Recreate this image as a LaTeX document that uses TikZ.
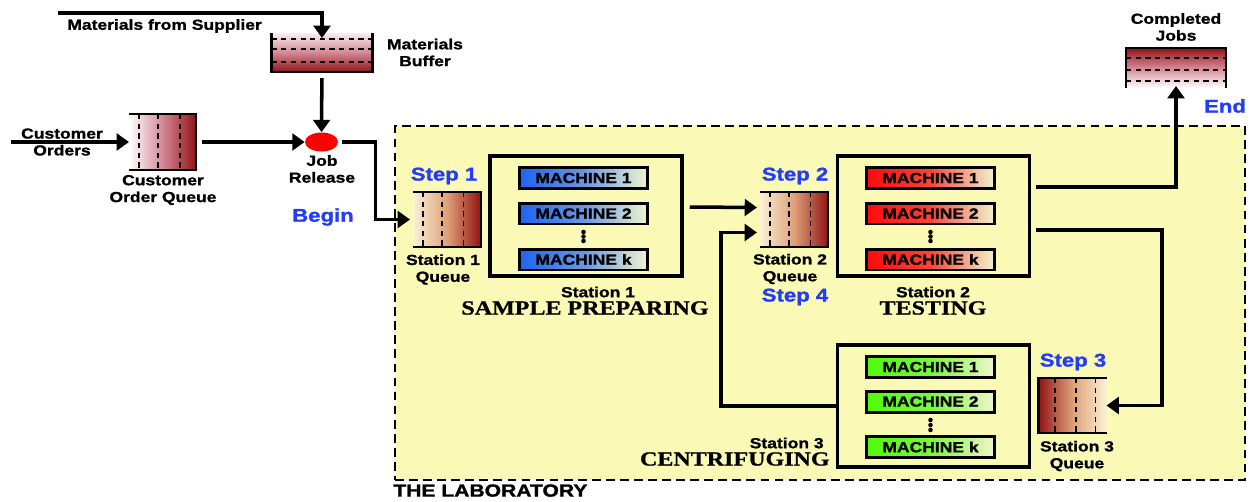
\documentclass[tikz,border=0pt]{standalone}
\usepackage{fontspec}
\setmainfont{Liberation Sans}[FakeStretch=1.2,BoldFeatures={FakeBold=1.3}]
\newfontfamily\titlefont{Liberation Serif}[FakeStretch=1.2,BoldFeatures={FakeBold=1}]
\usetikzlibrary{shapes.geometric,arrows.meta,calc}

\definecolor{labyellow}{RGB}{250,250,182}
\definecolor{qdark}{RGB}{145,20,20}
\definecolor{qcream}{RGB}{250,242,212}
\definecolor{qtan}{RGB}{222,160,120}
\definecolor{qpink}{RGB}{250,236,242}
\definecolor{qrose}{RGB}{212,135,150}
\definecolor{stepblue}{RGB}{35,60,250}
\definecolor{mblue}{RGB}{30,100,240}
\definecolor{mred}{RGB}{255,10,10}
\definecolor{mgreen}{RGB}{80,250,10}
\definecolor{mlight}{RGB}{240,245,205}

\begin{document}
\begin{tikzpicture}[x=0.02cm,y=-0.02cm,
		lbl/.style={font=\fontsize{8.3}{9.6}\selectfont\bfseries,align=center,inner sep=0},
		steplbl/.style={font=\fontsize{10.5}{12}\selectfont\bfseries,text=stepblue,inner sep=0},
		titlelbl/.style={font=\fontsize{11.4}{13}\selectfont\titlefont\bfseries,inner sep=0},
		arr/.style={line width=2pt,-{Triangle[length=7pt,width=9.5pt]}},
		qline/.style={line width=1.2pt},
		qdash/.style={line width=0.9pt,dash pattern=on 3pt off 2.5pt},
		queue/.style={minimum width=1.36cm,minimum height=1.1cm,inner sep=0,outer sep=0},
		station/.style={draw,line width=2pt,minimum width=3.84cm,minimum height=2.4cm,inner sep=0},
		machine/.style={draw,line width=1.7pt,minimum width=2.56cm,minimum height=0.42cm,inner sep=0,
			font=\fontsize{8.3}{9.6}\selectfont\bfseries}]
		\useasboundingbox (0,0) rectangle (1250,501);
		
		% the laboratory
		\node[draw,fill=labyellow,line width=1.2pt,dash pattern=on 5pt off 3pt,
		minimum width=17cm,minimum height=7.08cm,inner sep=0] (lab) at (820,303) {};
		\node[lbl,font=\fontsize{10}{12}\selectfont\bfseries,anchor=north west] (labname) at (393,484) {THE LABORATORY};
		
		% supplier and buffer
		\coordinate (sup) at (58,13);
		\node[lbl,anchor=west] (suplbl) at (67,26) {Materials from Supplier};
		\node[queue,minimum width=2.02cm,minimum height=0.78cm,top color=qpink,bottom color=qdark,middle color=qrose] (buf) at (322,52.5) {};
		\draw[qline] (buf.north west) -- (buf.south west) -- (buf.south east) -- (buf.north east);
		\foreach \f in {0.15,0.41,0.74}
		\draw[qdash] ($(buf.north west)!\f!(buf.south west)$) -- ($(buf.north east)!\f!(buf.south east)$);
		\node[lbl] (buflbl) at (425,52.5) {Materials\\Buffer};
		
		% customer orders
		\coordinate (co) at (11,142);
		\node[lbl] (colbl) at (62,142) {Customer\\Orders};
		\node[queue,minimum width=1.34cm,minimum height=1.12cm,left color=white,right color=qdark,middle color=qrose] (coq) at (162.5,142) {};
		\draw[qline] (coq.north west) -- (coq.north east) -- (coq.south east) -- (coq.south west);
		\foreach \f in {0.15,0.43,0.76}
		\draw[qdash] ($(coq.north west)!\f!(coq.north east)$) -- ($(coq.south west)!\f!(coq.south east)$);
		\node[lbl] (coqlbl) at (163,190) {Customer\\Order Queue};
		
		% job release
		\node[ellipse,fill=red,minimum width=0.66cm,minimum height=0.38cm,inner sep=0] (jr) at (321.5,142) {};
		\node[lbl] (jrlbl) at (322,169) {Job\\Release};
		\node[steplbl] (begin) at (323,217) {Begin};
		
		% station queues
		\node[queue,left color=qcream,right color=qdark,middle color=qtan] (q1) at (447,219.5) {};
		\node[queue,left color=qcream,right color=qdark,middle color=qtan] (q2) at (794,219.5) {};
		\node[queue,left color=qdark,right color=qcream,middle color=qtan] (q3) at (1072.5,405.5) {};
		\foreach \q in {q1,q2}{
			\draw[qline] (\q.north west) -- (\q.north east) -- (\q.south east) -- (\q.south west);
			\foreach \f in {0.15,0.43,0.74}
			\draw[qdash] ($(\q.north west)!\f!(\q.north east)$) -- ($(\q.south west)!\f!(\q.south east)$);
		}
		\draw[qline] (q3.north east) -- (q3.north west) -- (q3.south west) -- (q3.south east);
		\foreach \f in {0.24,0.55,0.84}
		\draw[qdash] ($(q3.north west)!\f!(q3.north east)$) -- ($(q3.south west)!\f!(q3.south east)$);
		
		\node[steplbl] (step1) at (444,176) {Step 1};
		\node[lbl] (q1lbl) at (443,269.5) {Station 1\\Queue};
		\node[steplbl] (step2) at (795,176) {Step 2};
		\node[lbl] (q2lbl) at (790,269) {Station 2\\Queue};
		\node[steplbl] (step4) at (795,297) {Step 4};
		\node[steplbl] (step3) at (1073,362) {Step 3};
		\node[lbl] (q3lbl) at (1077,456) {Station 3\\Queue};
		
		% stations
		\node[station] (st1) at (586,216) {};
		\node[station] (st2) at (933.5,216) {};
		\node[station,minimum height=2.44cm] (st3) at (933.5,406) {};
		
		\node[machine,left color=mblue,right color=mlight,middle color=mblue!65!mlight] (m11) at (583.5,178) {MACHINE 1};
		\node[machine,left color=mblue,right color=mlight,middle color=mblue!65!mlight] (m12) at (583.5,213.5) {MACHINE 2};
		\node[machine,left color=mblue,right color=mlight,middle color=mblue!65!mlight] (m1k) at (583.5,259.5) {MACHINE k};
		\node[machine,left color=mred,right color=mlight,middle color=mred!75!mlight] (m21) at (930.5,178) {MACHINE 1};
		\node[machine,left color=mred,right color=mlight,middle color=mred!75!mlight] (m22) at (930.5,213.5) {MACHINE 2};
		\node[machine,left color=mred,right color=mlight,middle color=mred!75!mlight] (m2k) at (930.5,259.5) {MACHINE k};
		\node[machine,left color=mgreen,right color=mlight,middle color=mgreen!75!mlight] (m31) at (930.5,367) {MACHINE 1};
		\node[machine,left color=mgreen,right color=mlight,middle color=mgreen!75!mlight] (m32) at (930.5,401.5) {MACHINE 2};
		\node[machine,left color=mgreen,right color=mlight,middle color=mgreen!75!mlight] (m3k) at (930.5,447) {MACHINE k};
		\foreach \y in {232,236.5,241}{
			\fill (583.5,\y) circle (1.3pt);
			\fill (930.5,\y) circle (1.3pt);
		}
		\foreach \y in {420,425,430}
		\fill (930.5,\y) circle (1.3pt);
		
		\node[lbl] (st1lbl) at (598,292) {Station 1};
		\node[titlelbl] (st1name) at (585,308) {SAMPLE PREPARING};
		\node[lbl] (st2lbl) at (933,292) {Station 2};
		\node[titlelbl] (st2name) at (933,308) {TESTING};
		\node[lbl,anchor=east] (st3lbl) at (824,443) {Station 3};
		\node[titlelbl,anchor=east] (st3name) at (830,459) {CENTRIFUGING};
		
		% completed jobs
		\node[queue,minimum width=2cm,minimum height=0.8cm,top color=qdark,bottom color=white,middle color=qrose] (cj) at (1176,68) {};
		\draw[qline] (cj.south west) -- (cj.north west) -- (cj.north east) -- (cj.south east);
		\foreach \f in {0.25,0.55,0.83}
		\draw[qdash] ($(cj.north west)!\f!(cj.south west)$) -- ($(cj.north east)!\f!(cj.south east)$);
		\node[lbl] (cjlbl) at (1176,27) {Completed\\Jobs};
		\node[steplbl] (end) at (1225,106) {End};
		
		% flows
		\draw[arr] (sup) -| ($(buf.north)+(0,5)$);
		\draw[arr,shorten <=3.5pt] (buf) -- (jr);
		\draw[arr] (co) -- (coq.west);
		\draw[arr,shorten <=3.5pt] (coq) -- (jr);
		\draw[arr,shorten <=2pt] (jr.east) -- ++(37,0) |- ($(q1.west)+(-3,0)$);
		\draw[arr] ($(st1.east)+(6,-9)$) -- ($(q2.west)+(-3,-12)$);
		\draw[arr] (st3.west) -- ++(-115,0) |- ($(q2.west)+(-3,13)$);
		\draw[arr] ($(st2.east)+(5,-29)$) -| ($(cj.south)+(0,-2)$);
		\draw[arr] ($(st2.east)+(5,14)$) -- ++(126,0) |- (q3.east);
		
	\end{tikzpicture}
\end{document}
